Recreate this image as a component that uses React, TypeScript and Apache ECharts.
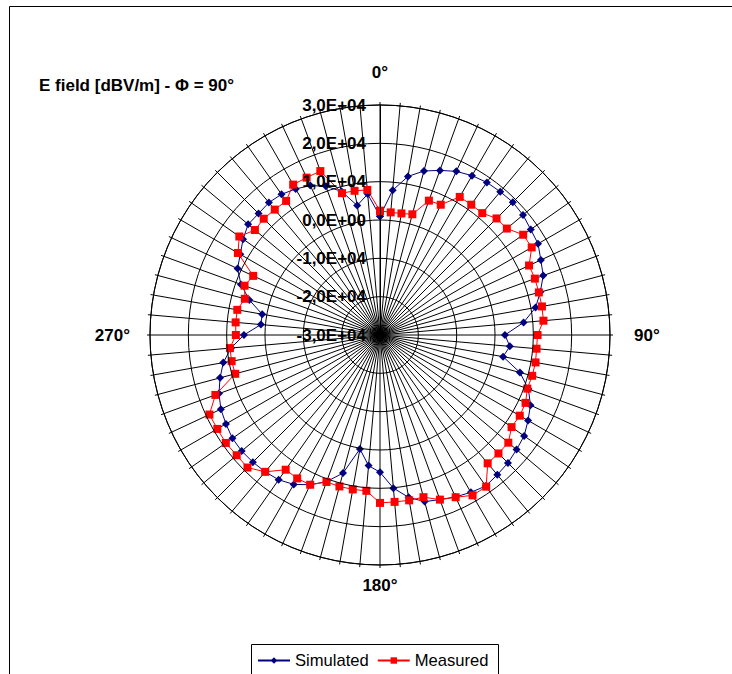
import React, { useEffect, useRef } from "react";
import * as echarts from "echarts";

const angles = [
  0, 5, 10, 15, 20, 25, 30, 35, 40, 45, 50, 55,
  60, 65, 70, 75, 80, 85, 90, 95, 100, 105, 110, 115,
  120, 125, 130, 135, 140, 145, 150, 155, 160, 165, 170, 175,
  180, 185, 190, 195, 200, 205, 210, 215, 220, 225, 230, 235,
  240, 245, 250, 255, 260, 265, 270, 275, 280, 285, 290, 295,
  300, 305, 310, 315, 320, 325, 330, 335, 340, 345, 350, 355,
];

const simulated = [
  1000, 7900, 12000, 14300, 15700, 17100, 18000, 18600, 18800, 19000, 18700, 18000,
  17600, 16300, 15300, 13300, 11200, 7600, 2600, 4000, 2600, 7800, 11200, 13300,
  14600, 15900, 16500, 17200, 17600, 18100, 17400, 16600, 15700, 15000, 13000, 10100,
  5800, 4200, 200, 7300, 10700, 13100, 15000, 16100, 16600, 16900, 17100, 17000,
  16400, 15800, 14700, 13200, 11500, 9000, 5500, 1200, 1200, 5300, 8600, 11000,
  12100, 13600, 14900, 14800, 15100, 14800, 14000, 13000, 11300, 8800, 4300, 6900,
];

const measured = [
  2400, 2100, 2200, 2600, 7300, 7500, 11600, 11500, 11500, 13000, 13200, 15600,
  15700, 12900, 13000, 12900, 12900, 12800, 11100, 11000, 11200, 11100, 10900, 11900,
  12100, 11900, 13700, 13700, 13700, 18300, 18300, 16700, 15700, 13800, 13800, 13700,
  13800, 10800, 10900, 10900, 10800, 13100, 13200, 12900, 16600, 18900, 18800, 19100,
  19000, 19100, 15700, 9100, 9300, 9300, 7600, 7800, 7800, 6500, 7600, 6500,
  12800, 14800, 12600, 12900, 12700, 12700, 15300, 15300, 15500, 8300, 8200, 8000,
];

const labelledAngles = [0, 90, 180, 270];
const titleText = "E field [dBV/m] - \u03A6 = 90\u00B0";
const seriesNames = ["Simulated", "Measured"];

const FONT = "'Liberation Sans', Arial, sans-serif";

function closed(values: number[]) {
  const pts = values.map((v, i) => [v, angles[i]]);
  pts.push([values[0], 360]);
  return pts;
}

function fmtRadius(v: number) {
  if (v === 0) return "0,0E+00";
  return (v / 1e4).toFixed(1).replace(".", ",") + "E+04";
}

const angleLabelStyle = { fontFamily: FONT, fontSize: 17, fontWeight: "bold", color: "#000" };

export default function App() {
  const ref = useRef<HTMLDivElement>(null);
  useEffect(() => {
    if (!ref.current) return;
    const chart = echarts.init(ref.current, undefined, { renderer: "svg" });
    chart.setOption({
      animation: false,
      backgroundColor: "#ffffff",
      title: {
        text: titleText,
        left: 34,
        top: 72,
        textStyle: { fontFamily: FONT, fontSize: 17, fontWeight: "bold", color: "#000" },
      },
      graphic: [
        {
          type: "rect",
          shape: { x: 9.5, y: 6.5, width: 760, height: 700 },
          style: { fill: "none", stroke: "#000", lineWidth: 1 },
          silent: true,
          z: -10,
        },
        {
          type: "rect",
          shape: { x: 251.5, y: 644.5, width: 247, height: 50 },
          style: { fill: "#fff", stroke: "#000", lineWidth: 1 },
          silent: true,
          z: -5,
        },
      ],
      legend: {
        left: 251,
        top: 644,
        orient: "horizontal",
        itemWidth: 32,
        itemHeight: 8,
        itemGap: 8,
        padding: [8, 6, 8, 6],
        textStyle: { fontFamily: FONT, fontSize: 16.6, color: "#000" },
        data: seriesNames,
        z: 10,
      },
      polar: { center: [380, 335], radius: 230 },
      angleAxis: {
        type: "value",
        min: 0,
        max: 360,
        interval: 5,
        startAngle: 90,
        clockwise: true,
        axisLine: { show: true, lineStyle: { color: "#000", width: 1 } },
        axisTick: { show: true, length: 3, lineStyle: { color: "#000" } },
        splitLine: { show: true, lineStyle: { color: "#000", width: 1 } },
        axisLabel: {
          margin: 12,
          ...angleLabelStyle,
          formatter: (v: number) => {
            if (labelledAngles.indexOf(v) < 0) return "";
            const key = "a" + v;
            return "{" + key + "|" + v + "\u00B0}";
          },
          rich: {
            a0: { ...angleLabelStyle, padding: [0, 0, 12, 0] },
            a90: { ...angleLabelStyle, padding: [0, 0, 0, 12] },
            a180: { ...angleLabelStyle, padding: [0, 0, 0, 0] },
            a270: { ...angleLabelStyle, padding: [0, 8, 0, 0] },
          },
        },
      },
      radiusAxis: {
        type: "value",
        min: -30000,
        max: 30000,
        interval: 10000,
        axisLine: { show: true, lineStyle: { color: "#000", width: 1 } },
        axisTick: { show: false },
        splitLine: { show: true, lineStyle: { color: "#000", width: 1 } },
        axisLabel: {
          fontFamily: FONT,
          fontSize: 17,
          fontWeight: "bold",
          color: "#000",
          margin: 14,
          formatter: fmtRadius,
        },
        z: 10,
      },
      series: [
        {
          name: seriesNames[0],
          type: "line",
          coordinateSystem: "polar",
          data: closed(simulated),
          symbol: "diamond",
          symbolSize: 8,
          color: "#000080",
          lineStyle: { color: "#000080", width: 1 },
          itemStyle: { color: "#000080" },
          z: 3,
        },
        {
          name: seriesNames[1],
          type: "line",
          coordinateSystem: "polar",
          data: closed(measured),
          symbol: "rect",
          symbolSize: 8,
          color: "#ff0000",
          lineStyle: { color: "#ff0000", width: 1 },
          itemStyle: { color: "#ff0000" },
          z: 4,
        },
      ],
    });
    return () => chart.dispose();
  }, []);
  return (
    <div
      ref={ref}
      style={{ position: "absolute", left: 0, top: 0, width: 732, height: 674 }}
    />
  );
}
